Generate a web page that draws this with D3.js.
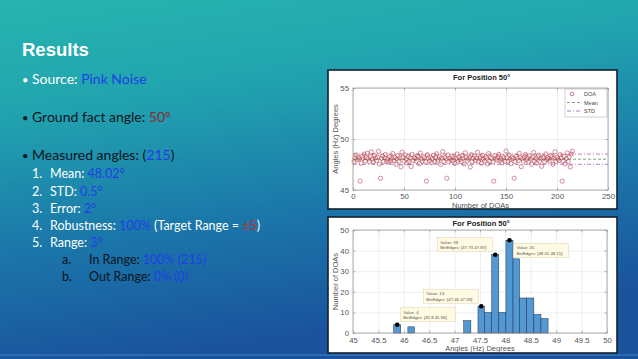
<!DOCTYPE html>
<html>
<head>
<meta charset="utf-8">
<script src="https://cdn.jsdelivr.net/npm/d3@7"></script>
<style>
  html, body { margin: 0; padding: 0; overflow: hidden; background: #1b6fa8; }
  svg { display: block; }
</style>
</head>
<body>
<svg id="slide" width="638" height="359"></svg>
<script>
const doaValues = [
  47.78, 48.12, 48.45, 47.95, 48.21, 48.05, 45.87, 47.62, 48.30, 48.10,
  48.52, 47.83, 48.18, 48.60, 48.07, 47.80, 48.25, 48.74, 48.03, 47.76,
  48.40, 48.14, 47.85, 48.22, 48.79, 47.55, 46.15, 48.09, 48.33, 47.81,
  48.16, 48.48, 47.79, 48.02, 47.75, 48.24, 47.86, 48.11, 48.58, 47.90,
  48.19, 47.52, 48.06, 48.37, 47.84, 48.13, 47.27, 48.71, 48.20, 47.82,
  48.44, 48.04, 47.65, 48.26, 47.78, 48.12, 47.30, 48.50, 47.88, 48.17,
  48.08, 47.83, 48.35, 48.23, 47.57, 48.62, 48.05, 47.80, 48.27, 48.14,
  47.76, 45.87, 48.46, 48.10, 47.85, 48.21, 47.68, 48.09, 48.40, 47.79,
  48.18, 48.55, 47.84, 48.03, 48.25, 47.50, 48.13, 48.77, 47.81, 48.20,
  48.06, 46.15, 48.43, 47.77, 48.11, 47.92, 48.29, 47.86, 48.16, 47.60,
  48.07, 48.53, 47.82, 48.22, 48.01, 47.79, 48.36, 48.12, 47.54, 48.65,
  48.19, 47.83, 48.04, 48.24, 47.25, 48.47, 47.78, 48.10, 48.32, 47.87,
  48.15, 48.70, 47.80, 48.08, 48.23, 47.63, 48.41, 48.05, 47.84, 48.26,
  48.13, 47.55, 48.57, 47.81, 48.20, 48.09, 47.76, 45.87, 48.38, 48.11,
  47.93, 48.21, 48.50, 47.85, 48.06, 47.67, 48.27, 48.14, 47.79, 48.82,
  48.17, 47.82, 48.44, 48.02, 47.58, 48.23, 48.09, 46.15, 47.80, 48.31,
  48.12, 47.86, 48.60, 48.19, 47.28, 48.07, 47.83, 48.25, 48.48, 47.95,
  48.15, 47.77, 48.34, 48.04, 47.53, 48.22, 48.68, 47.84, 48.10, 47.64,
  48.26, 48.42, 47.81, 48.08, 47.32, 48.20, 48.13, 47.78, 48.54, 47.97,
  48.18, 48.06, 47.85, 48.39, 48.24, 47.51, 48.11, 48.75, 47.80, 48.21,
  48.03, 47.88, 48.46, 48.16, 45.87, 47.83, 48.28, 47.56, 48.09, 48.64,
  47.79, 48.22, 47.26, 48.52, 48.80
];
const meanValue = 48.02;
const stdValue = 0.5;

// histogram
const binEdges = [45.80, 45.94, 46.08, 46.21, 46.35, 46.49, 46.63, 46.77, 46.90, 47.04, 47.18,
                  47.32, 47.46, 47.59, 47.73, 47.87, 48.01, 48.15, 48.28, 48.42, 48.56, 48.70, 48.84];
const binCounts = [4, 0, 3, 0, 0, 0, 0, 0, 0, 0, 6, 0, 13, 10, 38, 10, 45, 36, 17, 17, 9, 7];
const tipBins = [0, 12, 14, 16];
const tipSides = ["ne", "nw", "nw", "se"];

// axis ticks
const topXTicks = [0, 50, 100, 150, 200, 250];
const topYTicks = [45, 50, 55];
const botXTicks = [45, 45.5, 46, 46.5, 47, 47.5, 48, 48.5, 49, 49.5, 50];
const botYTicks = [0, 10, 20, 30, 40, 50];

const svg = d3.select("#slide");
const defs = svg.append("defs");

// slide background
const bg = defs.append("linearGradient").attr("id", "bg")
    .attr("x1", 0).attr("y1", 0).attr("x2", 0.25).attr("y2", 1);
bg.append("stop").attr("offset", 0).attr("stop-color", "#27b4ae");
bg.append("stop").attr("offset", 0.3).attr("stop-color", "#21a4af");
bg.append("stop").attr("offset", 0.65).attr("stop-color", "#1b78aa");
bg.append("stop").attr("offset", 1).attr("stop-color", "#1a529c");
svg.append("rect").attr("width", 638).attr("height", 359).attr("fill", "url(#bg)");
svg.append("rect").attr("y", 354).attr("width", 638).attr("height", 2).attr("fill", "#2c6cb0");

// ---------- slide text ----------
const blue = "#1f3fe6", white = "#ffffff", dark = "#0c141c", red = "#8e2a2a";
const bodyFont = "Lato, 'Open Sans', sans-serif";
svg.append("text").attr("x", 22).attr("y", 56)
    .attr("font-family", "Liberation Sans, Arial, sans-serif")
    .attr("font-weight", "bold").attr("font-size", 18.5).attr("fill", white)
    .text("Results");

// bullet / number marker column
const markers = [
  {x: 22, y: 84, text: "•", color: white, size: 11},
  {x: 22, y: 122, text: "•", color: dark, size: 11},
  {x: 22, y: 160, text: "•", color: dark, size: 11},
  {x: 32, y: 178, text: "1.", color: white, size: 12.5},
  {x: 32, y: 196, text: "2.", color: white, size: 12.5},
  {x: 32, y: 213, text: "3.", color: white, size: 12.5},
  {x: 32, y: 230, text: "4.", color: white, size: 12.5},
  {x: 32, y: 247, text: "5.", color: white, size: 12.5},
  {x: 62, y: 264, text: "a.", color: dark, size: 12.5},
  {x: 62, y: 281, text: "b.", color: dark, size: 12.5}
];
markers.forEach(m => svg.append("text").attr("x", m.x).attr("y", m.y)
    .attr("font-family", bodyFont).attr("font-size", m.size).attr("fill", m.color).text(m.text));

const lines = [
  {x: 32, y: 84, size: 14, parts: [["Source: ", white], ["Pink Noise", blue]]},
  {x: 32, y: 122, size: 14, parts: [["Ground fact angle: ", dark], ["50°", red]]},
  {x: 32, y: 160, size: 14, parts: [["Measured angles: (", dark], ["215", blue], [")", dark]]},
  {x: 50, y: 178, size: 12.5, parts: [["Mean: ", white], ["48.02°", blue]]},
  {x: 50, y: 196, size: 12.5, parts: [["STD: ", white], ["0.5°", blue]]},
  {x: 50, y: 213, size: 12.5, parts: [["Error: ", white], ["2°", blue]]},
  {x: 50, y: 230, size: 12.5, parts: [["Robustness: ", white], ["100%", blue], [" (Target Range = ", white], ["±5", "#c0302a"], [")", white]]},
  {x: 50, y: 247, size: 12.5, parts: [["Range: ", white], ["3°", blue]]},
  {x: 89, y: 264, size: 12.5, parts: [["In Range: ", dark], ["100% (215)", blue]]},
  {x: 89, y: 281, size: 12.5, parts: [["Out Range: ", dark], ["0% (0)", blue]]}
];
lines.forEach(l => {
  const t = svg.append("text").attr("x", l.x).attr("y", l.y)
      .attr("font-family", bodyFont)
      .attr("font-size", l.size).attr("xml:space", "preserve");
  l.parts.forEach(p => t.append("tspan").attr("fill", p[1]).text(p[0]));
});

// ---------- chart helpers ----------
const tickFont = "Liberation Sans, Arial, sans-serif";

function panel(x, y, w, h) {
  svg.append("rect").attr("x", x).attr("y", y).attr("width", w).attr("height", h)
      .attr("fill", "#ffffff").attr("stroke", "#15202e").attr("stroke-width", 1.6);
}

function grid(x, y, xt, yt) {
  const [x0, x1] = x.range(), [y0, y1] = y.range();
  const g = svg.append("g");
  g.append("g").attr("transform", `translate(0,${y0})`)
      .call(d3.axisBottom(x).tickValues(xt).tickSize(-(y0 - y1)).tickFormat(""))
      .call(a => a.select(".domain").remove())
      .call(a => a.selectAll("line").attr("stroke", "#e2e2e2").attr("stroke-width", 0.6));
  g.append("g").attr("transform", `translate(${x0},0)`)
      .call(d3.axisLeft(y).tickValues(yt).tickSize(-(x1 - x0)).tickFormat(""))
      .call(a => a.select(".domain").remove())
      .call(a => a.selectAll("line").attr("stroke", "#e2e2e2").attr("stroke-width", 0.6));
}

function axes(x, y, xt, yt, xfmt, xpad) {
  const [x0, x1] = x.range(), [y0, y1] = y.range();
  const style = a => {
    a.select(".domain").remove();
    a.selectAll("line").attr("stroke", "#8a8a8a").attr("stroke-width", 0.6);
    a.selectAll("text").attr("fill", "#555").attr("font-family", tickFont).attr("font-size", 7.8);
  };
  svg.append("g").attr("transform", `translate(0,${y0})`)
      .call(d3.axisBottom(x).tickValues(xt).tickSizeInner(-2.5).tickSizeOuter(0).tickPadding(xpad).tickFormat(xfmt))
      .call(style);
  svg.append("g").attr("transform", `translate(0,${y1})`)
      .call(d3.axisTop(x).tickValues(xt).tickSizeInner(-2.5).tickSizeOuter(0).tickFormat(""))
      .call(style);
  svg.append("g").attr("transform", `translate(${x0},0)`)
      .call(d3.axisLeft(y).tickValues(yt).tickSizeInner(-2.5).tickSizeOuter(0).tickPadding(4))
      .call(style);
  svg.append("g").attr("transform", `translate(${x1},0)`)
      .call(d3.axisRight(y).tickValues(yt).tickSizeInner(-2.5).tickSizeOuter(0).tickFormat(""))
      .call(style);
  svg.append("rect").attr("x", x0).attr("y", y1).attr("width", x1 - x0).attr("height", y0 - y1)
      .attr("fill", "none").attr("stroke", "#8a8a8a").attr("stroke-width", 0.7);
}

function labels(x, y, title, xlab, ylab, titleY, xlabY, ylabX) {
  const [x0, x1] = x.range(), [y0, y1] = y.range();
  const t = svg.append("text").attr("x", (x0 + x1) / 2 + 1).attr("y", titleY)
      .attr("text-anchor", "middle").attr("font-family", tickFont)
      .attr("font-weight", "bold").attr("font-size", 7.5).attr("fill", "#222");
  t.append("tspan").text(title);
  t.append("tspan").attr("dy", -3).attr("font-size", 4.5).text("o");
  svg.append("text").attr("x", (x0 + x1) / 2).attr("y", xlabY)
      .attr("text-anchor", "middle").attr("font-family", tickFont)
      .attr("font-size", 7.5).attr("fill", "#555").text(xlab);
  svg.append("text").attr("transform", `translate(${ylabX},${(y0 + y1) / 2}) rotate(-90)`)
      .attr("text-anchor", "middle").attr("font-family", tickFont)
      .attr("font-size", 7.5).attr("fill", "#555").text(ylab);
}

// ---------- top chart: DOA scatter ----------
panel(328, 70, 289, 139);
const xTop = d3.scaleLinear().domain([0, 250]).range([353, 608]);
const yTop = d3.scaleLinear().domain([45, 55]).range([190, 88]);
grid(xTop, yTop, topXTicks, topYTicks);

const refLines = [
  {v: meanValue + stdValue, color: "#c0608a", dash: "4,2,1,2"},
  {v: meanValue, color: "#5f8a66", dash: "3,2"},
  {v: meanValue - stdValue, color: "#9a66b8", dash: "4,2,1,2"}
];
svg.append("g").selectAll("line").data(refLines).join("line")
    .attr("x1", xTop(0)).attr("x2", xTop(250))
    .attr("y1", d => yTop(d.v)).attr("y2", d => yTop(d.v))
    .attr("stroke", d => d.color).attr("stroke-width", 0.8)
    .attr("stroke-dasharray", d => d.dash);

svg.append("g").selectAll("circle").data(doaValues).join("circle")
    .attr("cx", (d, i) => xTop(i + 1)).attr("cy", d => yTop(d))
    .attr("r", 2.1).attr("fill", "none")
    .attr("stroke", "#b8434f").attr("stroke-width", 0.7).attr("stroke-opacity", 0.85);

axes(xTop, yTop, topXTicks, topYTicks, d3.format("d"), 3);
labels(xTop, yTop, "For Position 50", "Number of DOAs", "Angles (Hz) Degrees", 80, 208, 338);

// legend
const lg = svg.append("g").attr("font-family", tickFont).attr("font-size", 5.5).attr("fill", "#444");
lg.append("rect").attr("x", 565).attr("y", 89).attr("width", 42).attr("height", 28)
    .attr("fill", "#fff").attr("stroke", "#b0b0b0").attr("stroke-width", 0.6);
lg.append("circle").attr("cx", 572).attr("cy", 94).attr("r", 1.8)
    .attr("fill", "none").attr("stroke", "#b8434f").attr("stroke-width", 0.7);
lg.append("line").attr("x1", 567).attr("x2", 580).attr("y1", 102.5).attr("y2", 102.5)
    .attr("stroke", refLines[1].color).attr("stroke-width", 0.8).attr("stroke-dasharray", refLines[1].dash);
lg.append("line").attr("x1", 567).attr("x2", 580).attr("y1", 111).attr("y2", 111)
    .attr("stroke", refLines[2].color).attr("stroke-width", 0.8).attr("stroke-dasharray", refLines[2].dash);
[["DOA", 96], ["Mean", 104.5], ["STD", 113]].forEach(e =>
  lg.append("text").attr("x", 584).attr("y", e[1]).text(e[0]));

// ---------- bottom chart: histogram ----------
panel(328, 217, 289, 136);
const xBot = d3.scaleLinear().domain([45, 50]).range([353, 607]);
const yBot = d3.scaleLinear().domain([0, 50]).range([333, 230]);
grid(xBot, yBot, botXTicks, botYTicks);

const bins = binCounts.map((c, i) => ({x0: binEdges[i], x1: binEdges[i + 1], count: c}));
svg.append("g").selectAll("rect").data(bins.filter(b => b.count > 0)).join("rect")
    .attr("x", d => xBot(d.x0)).attr("width", d => xBot(d.x1) - xBot(d.x0))
    .attr("y", d => yBot(d.count)).attr("height", d => yBot(0) - yBot(d.count))
    .attr("fill", "#5498d2").attr("stroke", "#1d3550").attr("stroke-width", 0.5);

axes(xBot, yBot, botXTicks, botYTicks, d3.format("~g"), 4);
labels(xBot, yBot, "For Position 50", "Angles (Hz) Degrees", "Number of DOAs", 226, 351, 338);

// data tips
const tipOffset = {ne: [3, -17], nw: [-58, -17], se: [4, 3]};
const tips = svg.append("g").attr("font-family", tickFont).attr("font-size", 4.3).attr("fill", "#555");
tipBins.forEach((bi, k) => {
  const b = bins[bi];
  const cx = xBot((b.x0 + b.x1) / 2), cy = yBot(b.count);
  const [dx, dy] = tipOffset[tipSides[k]];
  tips.append("rect").attr("x", cx + dx).attr("y", cy + dy).attr("width", 55).attr("height", 14)
      .attr("fill", "#fffbe2").attr("stroke", "#d8d2b0").attr("stroke-width", 0.5);
  tips.append("text").attr("x", cx + dx + 3).attr("y", cy + dy + 6).text(`Value: ${b.count}`);
  tips.append("text").attr("x", cx + dx + 3).attr("y", cy + dy + 11.5)
      .text(`BinEdges: [${d3.format("~g")(b.x0)} ${d3.format("~g")(b.x1)}]`);
  tips.append("circle").attr("cx", cx).attr("cy", cy).attr("r", 2.3).attr("fill", "#000");
});
</script>
</body>
</html>
